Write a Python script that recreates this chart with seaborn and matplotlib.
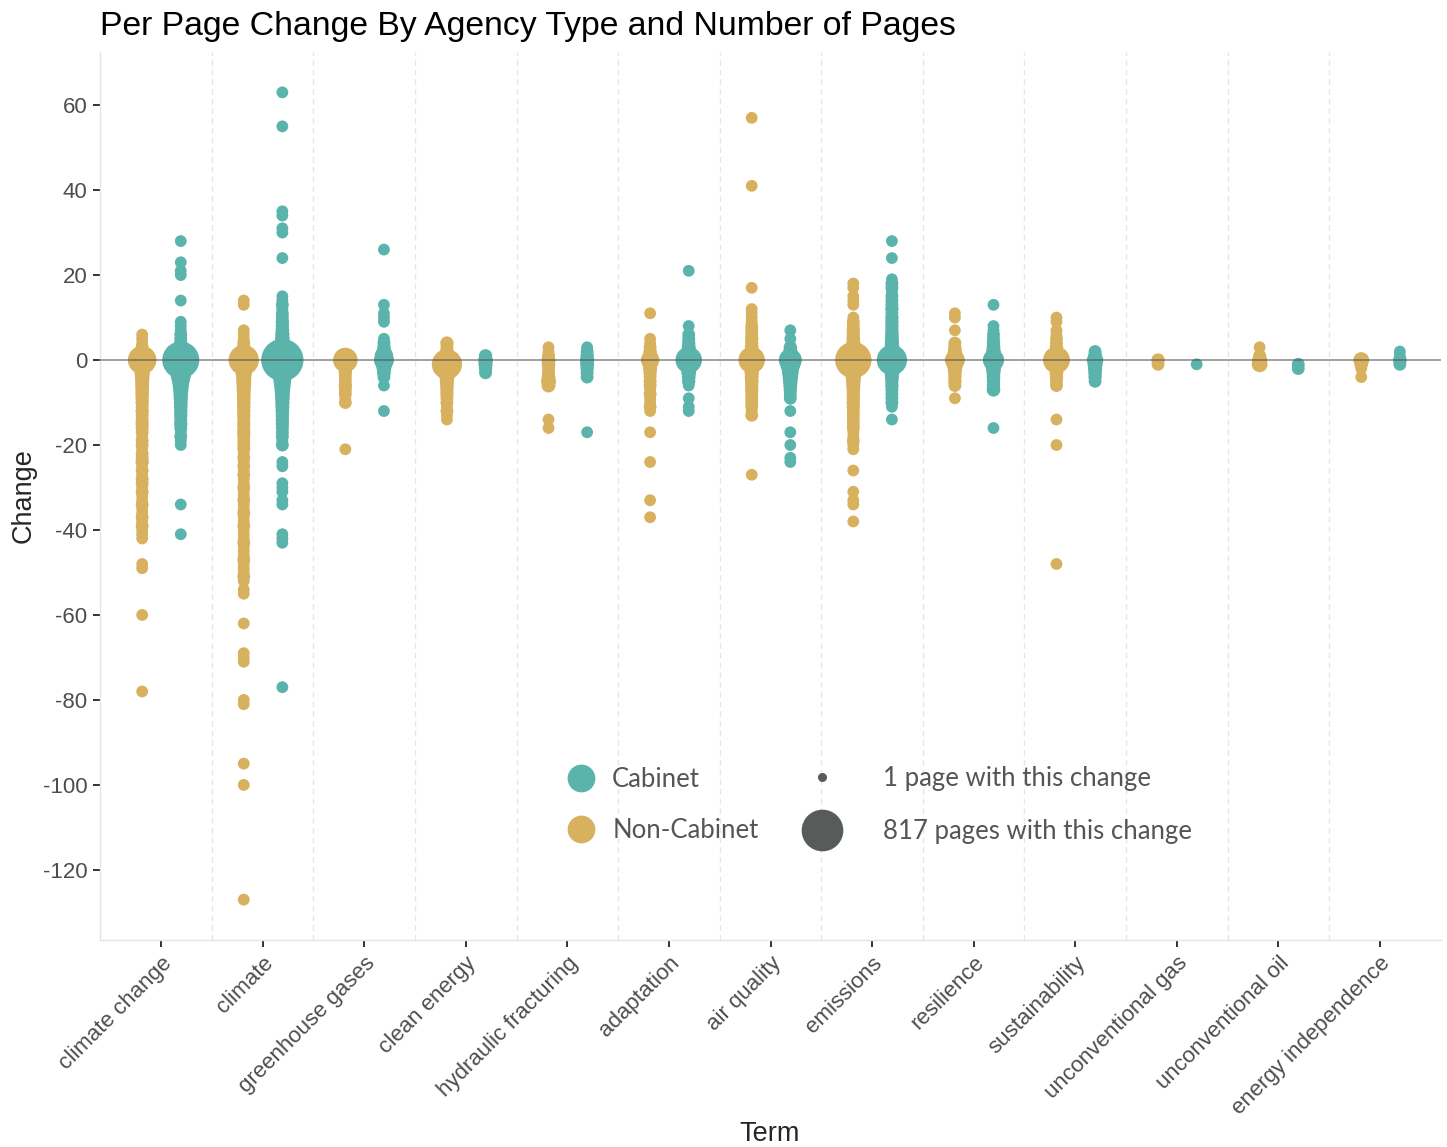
import numpy as np
import pandas as pd
import seaborn as sns
import matplotlib.pyplot as plt
from matplotlib.lines import Line2D

# terminos del eje x
terms = ['climate change', 'climate', 'greenhouse gases', 'clean energy',
         'hydraulic fracturing', 'adaptation', 'air quality', 'emissions',
         'resilience', 'sustainability', 'unconventional gas',
         'unconventional oil', 'energy independence']

# (cambio, numero de paginas) por termino y tipo de agencia
cc_nc = [(6, 1), (5, 1), (4, 1), (3, 2), (2, 4), (1, 15), (0, 246), (-1, 40), (-2, 20), (-3, 12),
         (-4, 8), (-5, 6), (-6, 5), (-7, 4), (-8, 4), (-9, 3), (-10, 3), (-11, 2), (-12, 3), (-13, 2),
         (-14, 2), (-15, 3), (-16, 2), (-17, 2), (-18, 1), (-19, 2), (-20, 2), (-21, 1), (-22, 2),
         (-23, 2), (-24, 3), (-25, 1), (-26, 2), (-27, 1), (-28, 2), (-29, 2), (-30, 1), (-31, 2),
         (-32, 1), (-33, 1), (-34, 2), (-35, 1), (-36, 1), (-37, 2), (-38, 1), (-39, 2), (-40, 1),
         (-41, 1), (-42, 1), (-48, 1), (-49, 1), (-60, 1), (-78, 1)]
cc_cab = [(28, 1), (23, 1), (21, 1), (20, 1), (14, 1), (9, 1), (8, 1), (7, 1), (6, 2), (5, 2), (4, 3),
          (3, 5), (2, 10), (1, 40), (0, 560), (-1, 200), (-2, 120), (-3, 80), (-4, 50), (-5, 30),
          (-6, 18), (-7, 12), (-8, 8), (-9, 6), (-10, 5), (-11, 4), (-12, 3), (-13, 3), (-14, 2),
          (-15, 3), (-16, 2), (-17, 1), (-18, 2), (-19, 1), (-20, 1), (-34, 1), (-41, 1)]
cl_nc = [(14, 1), (13, 1), (7, 1), (6, 1), (5, 1), (4, 2), (3, 3), (2, 6), (1, 20), (0, 300),
         (-1, 60), (-2, 30), (-3, 20), (-4, 12), (-5, 10), (-6, 8), (-7, 6), (-8, 5), (-9, 4),
         (-10, 4), (-11, 3), (-12, 3), (-13, 3), (-14, 2), (-15, 3), (-16, 2), (-17, 3), (-18, 2),
         (-19, 2), (-20, 2), (-21, 2), (-22, 1), (-23, 2), (-24, 1), (-25, 2), (-26, 1), (-27, 2),
         (-28, 1), (-29, 1), (-30, 2), (-31, 1), (-32, 1), (-33, 2), (-34, 1), (-35, 1), (-36, 2),
         (-37, 1), (-38, 1), (-39, 2), (-40, 1), (-41, 1), (-42, 1), (-43, 2), (-44, 1), (-45, 1),
         (-46, 1), (-47, 2), (-48, 1), (-49, 1), (-50, 1), (-51, 2), (-52, 1), (-54, 1), (-55, 1),
         (-62, 1), (-69, 1), (-70, 1), (-71, 1), (-80, 1), (-81, 1), (-95, 1), (-100, 1), (-127, 1)]
cl_cab = [(63, 1), (55, 1), (35, 1), (34, 1), (31, 1), (30, 1), (24, 1), (15, 1), (14, 1), (13, 2),
          (12, 1), (11, 2), (10, 2), (9, 3), (8, 3), (7, 4), (6, 6), (5, 8), (4, 12), (3, 20), (2, 35),
          (1, 120), (0, 817), (-1, 250), (-2, 130), (-3, 70), (-4, 45), (-5, 30), (-6, 20), (-7, 14),
          (-8, 10), (-9, 8), (-10, 6), (-11, 5), (-12, 4), (-13, 3), (-14, 3), (-15, 3), (-16, 2),
          (-17, 2), (-18, 2), (-19, 1), (-20, 2), (-24, 1), (-25, 1), (-29, 1), (-30, 1), (-31, 1),
          (-33, 1), (-34, 1), (-41, 1), (-42, 1), (-43, 1), (-77, 1)]
gg_nc = [(0, 144), (-1, 10), (-2, 5), (-3, 3), (-4, 2), (-5, 2), (-6, 3), (-7, 2), (-8, 2), (-9, 1),
         (-10, 2), (-21, 1)]
gg_cab = [(26, 1), (13, 1), (11, 1), (10, 1), (9, 1), (5, 1), (4, 2), (3, 3), (2, 8), (1, 40), (0, 60),
          (-1, 20), (-2, 8), (-3, 4), (-4, 2), (-6, 1), (-12, 1)]
ce_nc = [(4, 3), (3, 2), (2, 4), (1, 20), (0, 80), (-1, 300), (-2, 60), (-3, 20), (-4, 10), (-5, 6),
         (-6, 4), (-7, 3), (-8, 3), (-9, 2), (-10, 2), (-11, 1), (-12, 2), (-13, 1), (-14, 1)]
ce_cab = [(1, 3), (0, 8), (-1, 6), (-2, 3), (-3, 2)]
hf_nc = [(3, 1), (2, 1), (1, 2), (0, 5), (-1, 4), (-2, 2), (-3, 2), (-4, 4), (-5, 10), (-6, 5),
         (-14, 1), (-16, 1)]
hf_cab = [(3, 1), (2, 2), (1, 3), (0, 6), (-1, 5), (-2, 3), (-3, 2), (-4, 2), (-17, 1)]
ad_nc = [(11, 1), (5, 1), (4, 1), (3, 2), (2, 3), (1, 8), (0, 40), (-1, 10), (-2, 5), (-3, 3), (-4, 2),
         (-5, 2), (-6, 2), (-7, 1), (-8, 2), (-9, 1), (-10, 1), (-11, 2), (-12, 1), (-17, 1), (-24, 1),
         (-33, 1), (-37, 1)]
ad_cab = [(21, 1), (8, 1), (6, 2), (5, 2), (4, 3), (3, 5), (2, 10), (1, 30), (0, 190), (-1, 40),
          (-2, 15), (-3, 8), (-4, 4), (-5, 3), (-6, 1), (-9, 1), (-11, 1), (-12, 1)]
aq_nc = [(57, 1), (41, 1), (17, 1), (12, 1), (11, 1), (10, 1), (9, 1), (8, 2), (7, 2), (6, 2), (5, 3),
         (4, 3), (3, 4), (2, 8), (1, 20), (0, 190), (-1, 25), (-2, 10), (-3, 6), (-4, 5), (-5, 4),
         (-6, 3), (-7, 3), (-8, 2), (-9, 2), (-10, 2), (-11, 2), (-12, 1), (-13, 2), (-27, 1)]
aq_cab = [(7, 1), (5, 1), (3, 3), (2, 6), (1, 20), (0, 110), (-1, 60), (-2, 30), (-3, 20), (-4, 12),
          (-5, 8), (-6, 5), (-7, 3), (-8, 2), (-9, 2), (-12, 1), (-17, 1), (-20, 1), (-23, 1), (-24, 1)]
em_nc = [(18, 1), (17, 1), (15, 1), (14, 1), (13, 1), (10, 1), (9, 2), (8, 2), (7, 3), (6, 3), (5, 4),
         (4, 6), (3, 10), (2, 20), (1, 60), (0, 530), (-1, 100), (-2, 40), (-3, 20), (-4, 12), (-5, 8),
         (-6, 6), (-7, 4), (-8, 3), (-9, 3), (-10, 3), (-11, 3), (-12, 2), (-13, 2), (-14, 2), (-15, 2),
         (-16, 2), (-17, 1), (-18, 1), (-19, 2), (-20, 1), (-21, 1), (-26, 1), (-31, 1), (-33, 1),
         (-34, 1), (-38, 1)]
em_cab = [(28, 1), (24, 1), (19, 1), (18, 2), (17, 2), (16, 1), (15, 2), (14, 2), (13, 2), (12, 3),
          (11, 2), (10, 3), (9, 3), (8, 3), (7, 3), (6, 4), (5, 5), (4, 6), (3, 8), (2, 15), (1, 40),
          (0, 300), (-1, 40), (-2, 15), (-3, 8), (-4, 5), (-5, 3), (-6, 3), (-7, 2), (-8, 2), (-9, 2),
          (-10, 2), (-11, 1), (-14, 1)]
re_nc = [(11, 1), (10, 1), (7, 1), (4, 2), (3, 3), (2, 6), (1, 15), (0, 60), (-1, 20), (-2, 8), (-3, 4),
         (-4, 3), (-5, 3), (-6, 2), (-9, 1)]
re_cab = [(13, 1), (8, 1), (7, 1), (6, 2), (5, 2), (4, 3), (3, 4), (2, 8), (1, 20), (0, 80), (-1, 25),
          (-2, 10), (-3, 5), (-4, 4), (-5, 3), (-6, 3), (-7, 4), (-16, 1)]
su_nc = [(10, 1), (9, 1), (7, 1), (6, 1), (5, 2), (4, 2), (3, 3), (2, 6), (1, 15), (0, 200), (-1, 15),
         (-2, 6), (-3, 4), (-4, 3), (-5, 2), (-6, 2), (-14, 1), (-20, 1), (-48, 1)]
su_cab = [(2, 2), (1, 5), (0, 20), (-1, 10), (-2, 6), (-3, 4), (-4, 3), (-5, 2)]
ug_nc = [(0, 3), (-1, 2)]
ug_cab = [(-1, 1)]
uo_nc = [(3, 1), (1, 2), (0, 10), (-1, 15)]
uo_cab = [(-1, 2), (-2, 2)]
ei_nc = [(0, 15), (-1, 4), (-2, 1), (-4, 1)]
ei_cab = [(2, 1), (1, 1), (0, 4), (-1, 2)]

non_cabinet = [cc_nc, cl_nc, gg_nc, ce_nc, hf_nc, ad_nc, aq_nc, em_nc, re_nc, su_nc, ug_nc, uo_nc, ei_nc]
cabinet = [cc_cab, cl_cab, gg_cab, ce_cab, hf_cab, ad_cab, aq_cab, em_cab, re_cab, su_cab, ug_cab, uo_cab, ei_cab]

colors = {'Cabinet': '#5bb4ac', 'Non-Cabinet': '#d8b15f'}
dodge = {'Non-Cabinet': -0.185, 'Cabinet': 0.195}

# armamos el dataframe largo
rows = []
for i, term in enumerate(terms):
    for agency, groups in [('Non-Cabinet', non_cabinet), ('Cabinet', cabinet)]:
        for change, n in groups[i]:
            rows.append({'term': term, 'pos': i + dodge[agency], 'agency': agency,
                         'change': change, 'count': n})
df = pd.DataFrame(rows)

# tamaño como ggplot: diametro ~ sqrt(n)
def marker_area(n):
    d_px = 11.8 + 30.5 * np.sqrt((n - 1) / 816)
    return (d_px * 0.72) ** 2

size_map = {n: marker_area(n) for n in sorted(df['count'].unique())}

sns.set_style('white')
plt.rcParams['font.family'] = ['Liberation Sans', 'DejaVu Sans']
plt.rcParams['axes.unicode_minus'] = False

fig = plt.figure(figsize=(14.47, 11.47), dpi=100)
ax = fig.add_axes([100 / 1447, 1 - 940 / 1147, 1341 / 1447, 888 / 1147])

sns.scatterplot(data=df, x='pos', y='change', hue='agency', palette=colors,
                size='count', sizes=size_map, linewidth=0, legend=False, ax=ax, zorder=2)

ax.axhline(0, color='#555555', alpha=0.6, lw=1.3, zorder=3)

ax.set_xlim(-0.6, 12.6)
ax.set_ylim(-136.5, 72.5)
ax.set_yticks(range(-120, 61, 20))
ax.set_xticks(range(len(terms)))
ax.set_xticklabels(terms, rotation=45, ha='right', va='top', rotation_mode='anchor')
ax.set_xticks(np.arange(0.5, 12, 1), minor=True)
ax.grid(which='minor', axis='x', ls=(0, (4, 3)), color='#e6e6e6', lw=1)
ax.grid(which='major', visible=False)
ax.tick_params(which='minor', length=0)
ax.tick_params(which='major', length=5, width=1.4, color='#333333', labelcolor='#4d4d4d',
               labelsize=16, pad=4, left=True, bottom=True)
ax.set_xlabel('')
ax.set_ylabel('')
for side in ['top', 'right']:
    ax.spines[side].set_visible(False)
for side in ['left', 'bottom']:
    ax.spines[side].set_color('#e3e3e3')
    ax.spines[side].set_linewidth(1)

fig.text(100 / 1447, 1 - 35 / 1147, 'Per Page Change By Agency Type and Number of Pages',
         fontsize=24.3, ha='left', va='baseline', color='black')
fig.text(24 / 1447, 1 - 496 / 1147, 'Change', rotation=90, fontsize=19.5, ha='center', va='center')
fig.text(770 / 1447, 1 - 1141 / 1147, 'Term', fontsize=19.5, ha='center', va='baseline')

# leyendas manuales
hue_handles = [Line2D([], [], marker='o', ls='', markersize=20, markeredgewidth=0, color=colors[k])
               for k in ['Cabinet', 'Non-Cabinet']]
leg1 = ax.legend(hue_handles, ['Cabinet', 'Non-Cabinet'], loc='center left',
                 bbox_to_anchor=(568 / 1447, 1 - 805 / 1147), bbox_transform=fig.transFigure,
                 frameon=False, borderpad=0, borderaxespad=0, handlelength=1.0, handletextpad=0.72,
                 labelspacing=1.0, prop={'family': 'Lato', 'size': 18.5}, labelcolor='#555555')
ax.add_artist(leg1)

size_handles = [Line2D([], [], marker='o', ls='', markersize=ms, markeredgewidth=0, color='#575c5a')
                for ms in [6.5, 30]]
ax.legend(size_handles, ['1 page with this change', '817 pages with this change'], loc='center left',
          bbox_to_anchor=(796 / 1447, 1 - 805 / 1147), bbox_transform=fig.transFigure,
          frameon=False, borderpad=0, borderaxespad=0, handlelength=2.0, handletextpad=1.4,
          labelspacing=1.12, prop={'family': 'Lato', 'size': 18.5}, labelcolor='#555555')

fig.savefig('out.png', dpi=100)
